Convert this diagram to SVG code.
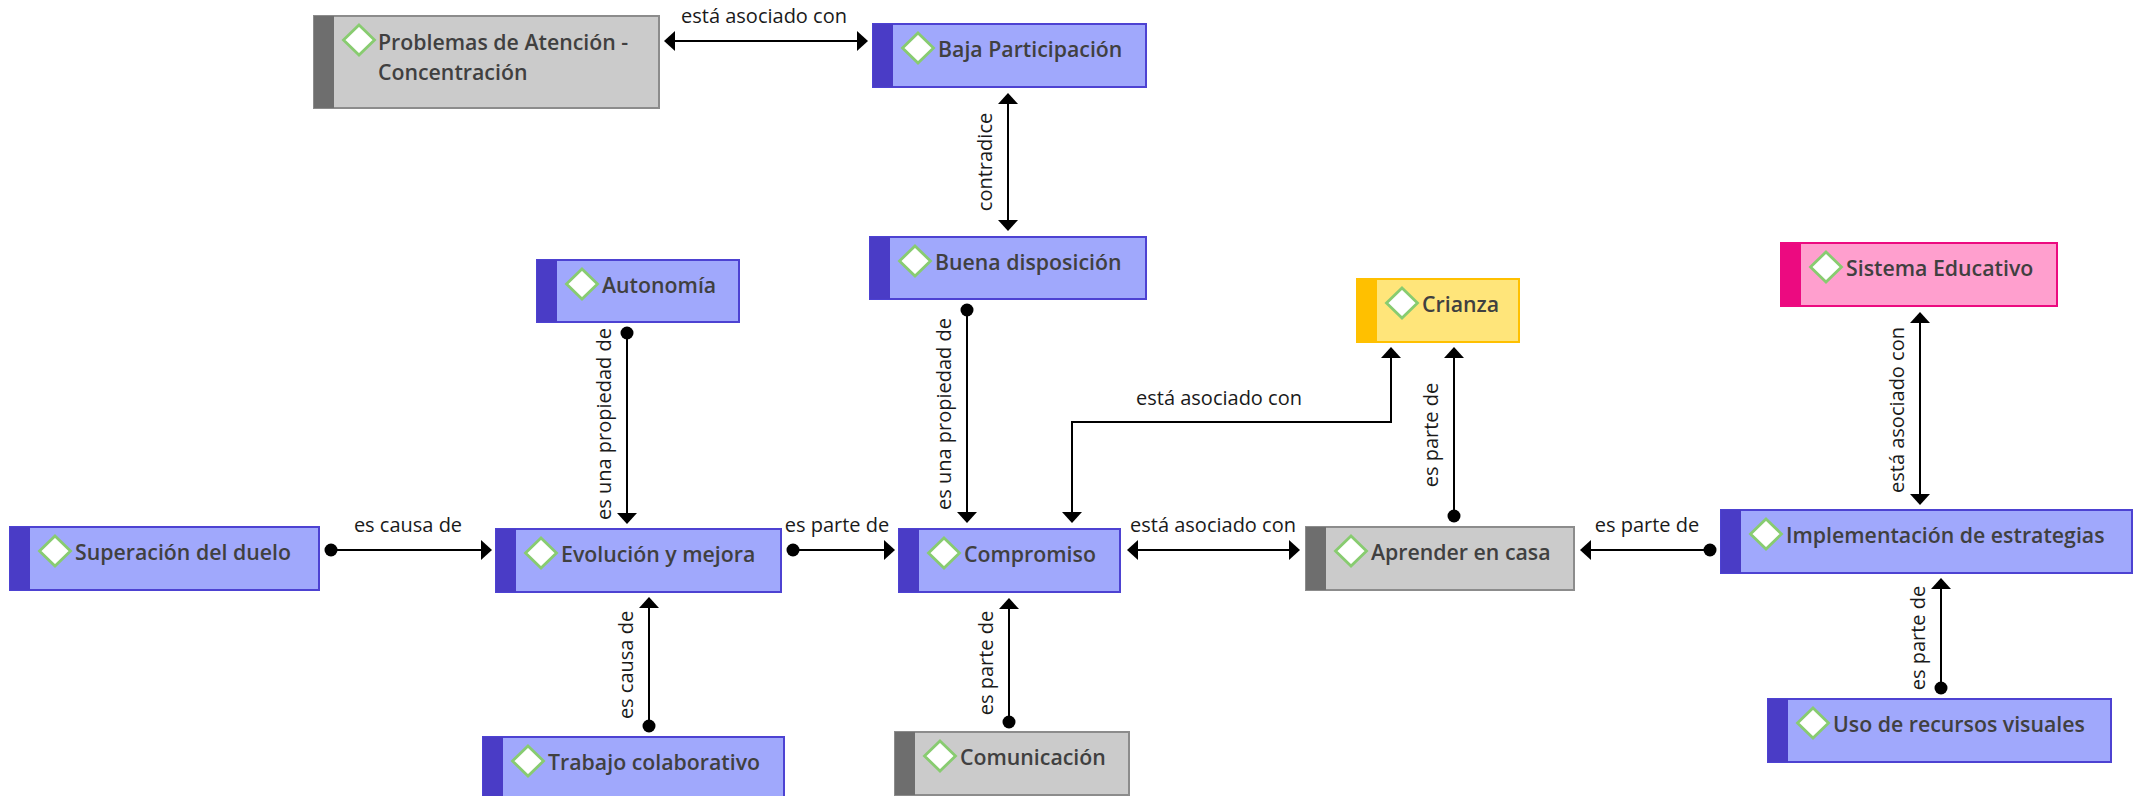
<svg xmlns="http://www.w3.org/2000/svg" xmlns:xlink="http://www.w3.org/1999/xlink" width="2139" height="796" viewBox="0 0 2139 796">
<style>
.box{stroke-width:2}
.blue .box{fill:#a0a8fc;stroke:#4d42d2}
.blue .bar{fill:#4a3cc6}
.gray .box{fill:#cbcbcb;stroke:#8c8c8c}
.gray .bar{fill:#6e6e6e}
.yellow .box{fill:#ffe57a;stroke:#ffc000}
.yellow .bar{fill:#ffc000}
.pink .box{fill:#ff9fce;stroke:#ec0a80}
.pink .bar{fill:#ec0a80}
.nt{font-family:"Open Sans","Noto Sans","DejaVu Sans",sans-serif;font-size:21.3px;font-weight:600;fill:#404040}
.lt{font-family:"Open Sans","Noto Sans","DejaVu Sans",sans-serif;font-size:20px;fill:#1a1a1a;text-anchor:middle}
.cn{fill:none;stroke:#000;stroke-width:2}
.ah{marker-start:url(#arr);marker-end:url(#arr)}
.dh{marker-start:url(#dot);marker-end:url(#arr)}
</style>
<defs>
<path id="dia" d="M0,-15 L15.5,0 L0,15 L-15.5,0 Z" fill="#fff" stroke="#88cc70" stroke-width="2.8"/>
<marker id="arr" viewBox="0 0 11 20" refX="0" refY="10" markerWidth="11" markerHeight="20" markerUnits="userSpaceOnUse" orient="auto-start-reverse"><path d="M0,0 L11,10 L0,20 Z" fill="#000"/></marker>
<marker id="dot" viewBox="-7 -7 14 14" refX="0" refY="0" markerWidth="14" markerHeight="14" markerUnits="userSpaceOnUse"><circle r="6.5" fill="#000"/></marker>
</defs>
<rect width="2139" height="796" fill="#fff"/>

<g id="connectors">
<line class="cn ah" x1="675" y1="41" x2="857" y2="41"/>
<text class="lt" x="764" y="23">está asociado con</text>
<line class="cn ah" x1="1008" y1="104" x2="1008" y2="220"/>
<text class="lt" transform="translate(992,162) rotate(-90)">contradice</text>
<line class="cn dh" x1="627" y1="333" x2="627" y2="513"/>
<text class="lt" transform="translate(611,424) rotate(-90)">es una propiedad de</text>
<line class="cn dh" x1="331" y1="550" x2="481" y2="550"/>
<text class="lt" x="408" y="532">es causa de</text>
<line class="cn dh" x1="793" y1="550" x2="884" y2="550"/>
<text class="lt" x="837" y="532">es parte de</text>
<line class="cn dh" x1="649" y1="726" x2="649" y2="608"/>
<text class="lt" transform="translate(633,665) rotate(-90)">es causa de</text>
<line class="cn dh" x1="967" y1="310" x2="967" y2="512"/>
<text class="lt" transform="translate(951,414) rotate(-90)">es una propiedad de</text>
<polyline class="cn ah" points="1072,512 1072,422 1391,422 1391,358"/>
<text class="lt" x="1219" y="405">está asociado con</text>
<line class="cn ah" x1="1138" y1="550" x2="1289" y2="550"/>
<text class="lt" x="1213" y="532">está asociado con</text>
<line class="cn dh" x1="1454" y1="516" x2="1454" y2="358"/>
<text class="lt" transform="translate(1438,435) rotate(-90)">es parte de</text>
<line class="cn dh" x1="1710" y1="550" x2="1591" y2="550"/>
<text class="lt" x="1647" y="532">es parte de</text>
<line class="cn ah" x1="1920" y1="323" x2="1920" y2="494"/>
<text class="lt" transform="translate(1904,410) rotate(-90)">está asociado con</text>
<line class="cn dh" x1="1941" y1="688" x2="1941" y2="589"/>
<text class="lt" transform="translate(1925,638) rotate(-90)">es parte de</text>
<line class="cn dh" x1="1009" y1="722" x2="1009" y2="609"/>
<text class="lt" transform="translate(993,663) rotate(-90)">es parte de</text>
</g>

<g id="n-problemas" class="gray">
<rect class="box" x="314" y="16" width="345" height="92"/>
<rect class="bar" x="314" y="16" width="20" height="92"/>
<use xlink:href="#dia" x="359" y="40"/>
<text class="nt" x="378" y="50">Problemas de Atención -<tspan x="378" y="80">Concentración</tspan></text>
</g>
<g id="n-baja" class="blue">
<rect class="box" x="873" y="24" width="273" height="63"/>
<rect class="bar" x="873" y="24" width="20" height="63"/>
<use xlink:href="#dia" x="918" y="48"/>
<text class="nt" x="938" y="57">Baja Participación</text>
</g>
<g id="n-autonomia" class="blue">
<rect class="box" x="537" y="260" width="202" height="62"/>
<rect class="bar" x="537" y="260" width="20" height="62"/>
<use xlink:href="#dia" x="582" y="284"/>
<text class="nt" x="602" y="293">Autonomía</text>
</g>
<g id="n-buena" class="blue">
<rect class="box" x="870" y="237" width="276" height="62"/>
<rect class="bar" x="870" y="237" width="20" height="62"/>
<use xlink:href="#dia" x="915" y="261"/>
<text class="nt" x="935" y="270">Buena disposición</text>
</g>
<g id="n-crianza" class="yellow">
<rect class="box" x="1357" y="279" width="162" height="63"/>
<rect class="bar" x="1357" y="279" width="20" height="63"/>
<use xlink:href="#dia" x="1402" y="303"/>
<text class="nt" x="1422" y="312">Crianza</text>
</g>
<g id="n-sistema" class="pink">
<rect class="box" x="1781" y="243" width="276" height="63"/>
<rect class="bar" x="1781" y="243" width="20" height="63"/>
<use xlink:href="#dia" x="1826" y="267"/>
<text class="nt" x="1846" y="276">Sistema Educativo</text>
</g>
<g id="n-superacion" class="blue">
<rect class="box" x="10" y="527" width="309" height="63"/>
<rect class="bar" x="10" y="527" width="20" height="63"/>
<use xlink:href="#dia" x="55" y="551"/>
<text class="nt" x="75" y="560">Superación del duelo</text>
</g>
<g id="n-evolucion" class="blue">
<rect class="box" x="496" y="529" width="285" height="63"/>
<rect class="bar" x="496" y="529" width="20" height="63"/>
<use xlink:href="#dia" x="541" y="553"/>
<text class="nt" x="561" y="562">Evolución y mejora</text>
</g>
<g id="n-compromiso" class="blue">
<rect class="box" x="899" y="529" width="221" height="63"/>
<rect class="bar" x="899" y="529" width="20" height="63"/>
<use xlink:href="#dia" x="944" y="553"/>
<text class="nt" x="964" y="562">Compromiso</text>
</g>
<g id="n-aprender" class="gray">
<rect class="box" x="1306" y="527" width="268" height="63"/>
<rect class="bar" x="1306" y="527" width="20" height="63"/>
<use xlink:href="#dia" x="1351" y="551"/>
<text class="nt" x="1371" y="560">Aprender en casa</text>
</g>
<g id="n-implementacion" class="blue">
<rect class="box" x="1721" y="510" width="411" height="63"/>
<rect class="bar" x="1721" y="510" width="20" height="63"/>
<use xlink:href="#dia" x="1766" y="534"/>
<text class="nt" x="1786" y="543">Implementación de estrategias</text>
</g>
<g id="n-uso" class="blue">
<rect class="box" x="1768" y="699" width="343" height="63"/>
<rect class="bar" x="1768" y="699" width="20" height="63"/>
<use xlink:href="#dia" x="1813" y="723"/>
<text class="nt" x="1833" y="732">Uso de recursos visuales</text>
</g>
<g id="n-trabajo" class="blue">
<rect class="box" x="483" y="737" width="301" height="63"/>
<rect class="bar" x="483" y="737" width="20" height="63"/>
<use xlink:href="#dia" x="528" y="761"/>
<text class="nt" x="548" y="770">Trabajo colaborativo</text>
</g>
<g id="n-comunicacion" class="gray">
<rect class="box" x="895" y="732" width="234" height="63"/>
<rect class="bar" x="895" y="732" width="20" height="63"/>
<use xlink:href="#dia" x="940" y="756"/>
<text class="nt" x="960" y="765">Comunicación</text>
</g>
</svg>
